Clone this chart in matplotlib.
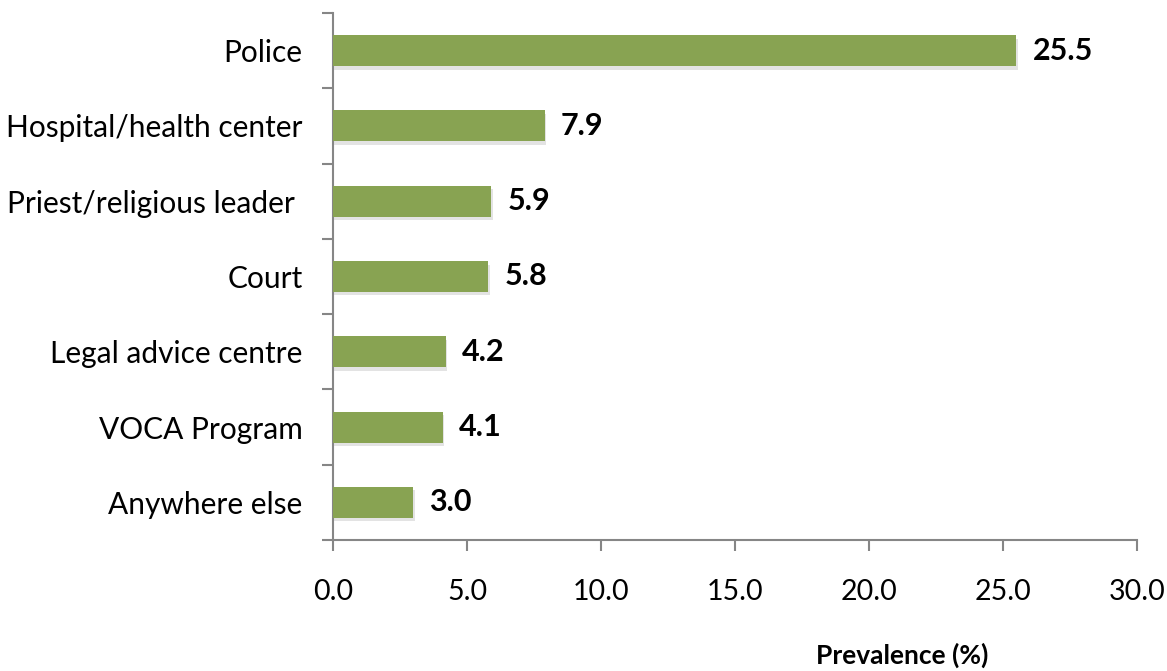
import matplotlib
matplotlib.use("Agg")
import matplotlib.pyplot as plt
import matplotlib.patheffects as pe
import numpy as np

# data
categories = ["Police", "Hospital/health center", "Priest/religious leader ",
              "Court", "Legal advice centre", "VOCA Program", "Anywhere else"]
prevalence = [25.5, 7.9, 5.9, 5.8, 4.2, 4.1, 3.0]
xticks = [0, 5, 10, 15, 20, 25, 30]

bar_color = "#88A352"
axis_color = "#868686"

plt.rcParams["font.family"] = ["Lato", "DejaVu Sans"]

fig = plt.figure(figsize=(11.67, 6.71), dpi=100)
ax = fig.add_axes([333 / 1167, 131 / 671, 804 / 1167, 527 / 671])

y = np.arange(len(categories))
bars = ax.barh(y, prevalence, height=0.41, color=bar_color, zorder=3)
for b in bars:
    b.set_path_effects([pe.SimplePatchShadow(offset=(1, -2.5), shadow_rgbFace="#c8c8c8", alpha=0.5),
                        pe.Normal()])

for yi, v in zip(y, prevalence):
    ax.text(v + 0.6, yi, f"{v:.1f}", va="center", ha="left",
            fontsize=22, fontweight="bold", color="black")

ax.set_ylim(len(categories) - 0.5, -0.5)
ax.set_xlim(0, 30)
ax.set_xticks(xticks)
ax.set_xticklabels([f"{t:.1f}" for t in xticks])
ax.set_yticks(y)
ax.set_yticklabels(categories)
ax.set_yticks(np.arange(-0.5, len(categories), 1), minor=True)

ax.tick_params(axis="y", which="major", length=0, pad=22, labelsize=21.5)
ax.tick_params(axis="y", which="minor", length=8, width=1.5, color=axis_color, direction="out")
ax.tick_params(axis="x", length=8, width=1.5, color=axis_color, direction="out",
               pad=20, labelsize=20.5)

for s in ["top", "right"]:
    ax.spines[s].set_visible(False)
for s in ["left", "bottom"]:
    ax.spines[s].set_color(axis_color)
    ax.spines[s].set_linewidth(1.5)

ax.set_xlabel("Prevalence (%)", fontsize=19, fontweight="bold")
ax.xaxis.label.set_va("center")
ax.xaxis.set_label_coords(0.708, -0.218)

fig.savefig("out.png", dpi=100)
